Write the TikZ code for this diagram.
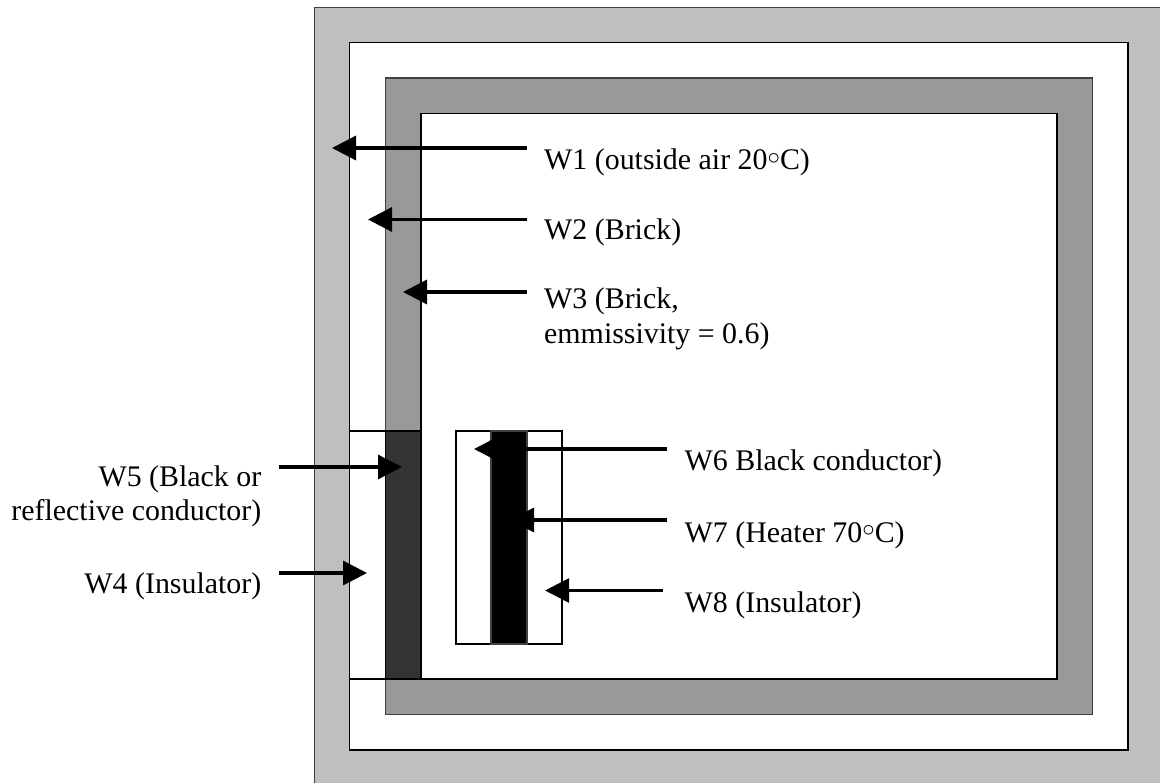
\documentclass[tikz,border=0pt]{standalone}
\usepackage{fontspec}
\setmainfont{Liberation Serif}
\usetikzlibrary{arrows.meta}
\newcommand{\dg}{\raisebox{0.17em}{$\circ$}}
\tikzset{
  x=1pt,y=-1pt,
  wall/.style={draw=black,line width=1.5pt},
  lightwall/.style={wall,draw=black!75},
  lbl/.style={font=\fontsize{29.9}{35}\selectfont,inner sep=0pt,text=black},
  lblL/.style={lbl,anchor=base west,align=left},
  lblR/.style={lbl,anchor=base east,align=right},
  pointer/.style={line width=3.3pt,-{Triangle[length=24pt,width=24pt]},shorten >=0pt},
  thinpointer/.style={pointer,line width=2.7pt},
}
\definecolor{outerwall}{gray}{0.75}
\definecolor{brick}{gray}{0.6}
\definecolor{darkcond}{gray}{0.2}
\begin{document}
\begin{tikzpicture}
\useasboundingbox (0,0) rectangle (1160,783);
\fill[white] (0,0) rectangle (1160,783);
% outer wall
\path[fill=outerwall] (314.5,7.5) rectangle (1160,783);
\draw[lightwall] (314.5,783) -- (314.5,7.5) -- (1160,7.5);
\draw[wall,fill=white] (349.5,42.5) rectangle (1128,750);
\draw[lightwall,fill=brick] (385.5,78) rectangle (1092.5,714.5);
\draw[wall,fill=white] (421,113.5) rectangle (1057,679);
% insulator and conductor
\draw[wall,fill=white] (349.5,431) rectangle (385.5,679);
\draw[wall,fill=darkcond] (385.5,431) rectangle (421,679);
% heater block
\draw[wall,fill=white] (456,431) rectangle (562,644);
\draw[lightwall,fill=black] (491,431) rectangle (527,644);
% labels
\node[lblL] (w1) at (544,170) {W1 (outside air 20\dg C)};
\node[lblL] (w2) at (544,240) {W2 (Brick)};
\node[lblL] (w3) at (544,309) {W3 (Brick,};
\node[lblL] (w3b) at (544,344) {emmissivity = 0.6)};
\node[lblR] (w5) at (261.5,486) {W5 (Black or};
\node[lblR] (w5b) at (261.5,521) {reflective conductor)};
\node[lblR] (w4) at (261.5,593) {W4 (Insulator)};
\node[lblL] (w6) at (684.5,471) {W6 Black conductor)};
\node[lblL] (w7) at (684.5,542) {W7 (Heater 70\dg C)};
\node[lblL] (w8) at (684.5,612) {W8 (Insulator)};
% connector ends
\coordinate (s1) at (527,148); \coordinate (t1) at (332,148);
\coordinate (s2) at (527,219.5); \coordinate (t2) at (368,219.5);
\coordinate (s3) at (527,292); \coordinate (t3) at (403,292);
\coordinate (s5) at (279,467); \coordinate (t5) at (402,467);
\coordinate (s4) at (279,573); \coordinate (t4) at (367,573);
\coordinate (s6) at (667,449); \coordinate (t6) at (474,449);
\coordinate (s7) at (667,520); \coordinate (t7) at (510,520);
\coordinate (s8) at (663,590.5); \coordinate (t8) at (545,590.5);
\draw[pointer] (s1) -- (t1);
\draw[pointer] (s2) -- (t2);
\draw[pointer] (s3) -- (t3);
\draw[pointer] (s5) -- (t5);
\draw[pointer] (s4) -- (t4);
\draw[pointer] (s6) -- (t6);
\draw[pointer] (s7) -- (t7);
\draw[thinpointer] (s8) -- (t8);
\end{tikzpicture}
\end{document}
